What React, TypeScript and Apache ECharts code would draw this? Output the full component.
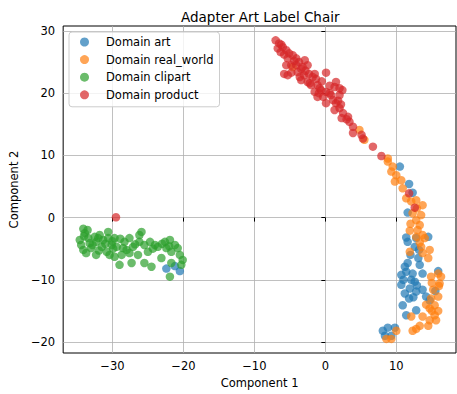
import React, { useEffect, useRef } from "react";
import * as echarts from "echarts";

// t-SNE style 2-D embedding of features, one list of [x, y] per domain
const artPoints: number[][] = [
  [10.5, 8.2], [11.8, 5.4], [12.3, 4.0], [11.6, 0.8], [11.4, -3.2], [12.8, -3.3], [14.5, -3.1],
  [11.6, -3.9], [12.6, -4.7], [13.1, -6.5], [11.6, -7.3], [13.3, -7.6], [11.4, -8.7], [10.7, -9.2],
  [12.3, -9.0], [13.7, -9.0], [15.9, -8.6], [12.1, -10.0], [12.6, -10.3], [10.7, -10.8], [11.9, -11.4],
  [11.2, -12.2], [12.8, -11.9], [13.7, -11.6], [14.2, -12.7], [14.7, -13.3], [10.9, -14.1], [12.8, -14.9],
  [11.4, -15.7], [8.8, -17.7], [9.8, -17.7], [8.4, -19.0], [9.3, -19.0], [8.1, -18.2], [15.5, -11.8],
  [11.0, -10.0], [12.0, -6.0], [12.4, -12.8], [11.8, -13.0], [13.2, -5.2], [11.2, -7.9], [12.9, -10.9],
  [-22.4, -8.2], [-21.2, -7.8], [-20.5, -8.6],
];

const realWorldPoints: number[][] = [
  [-4.6, 24.2], [4.8, 14.1], [5.5, 12.5], [8.8, 9.5], [8.8, 9.0], [9.5, 8.2], [9.3, 7.4], [10.0, 6.8],
  [9.8, 5.8], [10.7, 6.0], [10.9, 4.7], [11.4, 3.1], [12.1, 2.6], [12.8, 2.8], [13.7, 2.0], [12.3, 0.7],
  [13.5, 0.4], [12.8, -0.4], [13.3, -1.2], [11.9, -2.1], [13.0, -2.0], [13.7, -2.8], [12.8, -3.1],
  [14.0, -3.3], [13.5, -4.7], [14.7, -5.2], [11.9, -5.5], [13.7, -5.7], [14.5, -6.5], [14.9, -9.5],
  [16.3, -9.5], [16.1, -10.6], [15.2, -11.6], [15.9, -12.7], [14.9, -13.0], [15.4, -14.1], [14.7, -14.6],
  [12.1, -15.9], [13.7, -15.9], [15.4, -15.7], [14.7, -16.5], [15.6, -16.5], [13.3, -17.4], [12.8, -17.9],
  [12.3, -18.2], [14.5, -17.4], [10.0, -18.2], [8.6, -19.5], [9.3, -19.5], [15.9, -9.0], [15.0, -10.5],
  [14.2, -14.0], [15.0, -15.0], [15.9, -15.0], [12.9, 1.5], [12.0, -1.0], [13.3, -4.0], [16.0, -11.0],
];

const clipartPoints: number[][] = [
  [-34.1, -1.8], [-33.9, -2.5], [-34.6, -3.6], [-34.4, -4.4], [-34.1, -5.2], [-33.4, -3.3], [-33.2, -4.1],
  [-33.0, -4.9], [-32.5, -3.1], [-32.3, -3.9], [-32.3, -6.0], [-31.8, -2.8], [-31.5, -4.7], [-31.3, -3.6],
  [-30.8, -5.5], [-30.6, -2.3], [-30.6, -3.3], [-30.1, -4.4], [-29.7, -3.3], [-29.4, -4.7], [-29.7, -6.3],
  [-29.0, -7.6], [-28.5, -4.9], [-28.3, -3.9], [-28.7, -6.0], [-27.6, -3.3], [-27.6, -5.7], [-27.3, -7.3],
  [-27.1, -4.7], [-26.4, -6.0], [-26.2, -2.8], [-26.2, -3.9], [-25.9, -2.3], [-25.5, -4.4], [-25.5, -7.3],
  [-25.0, -5.5], [-24.5, -7.9], [-24.7, -3.9], [-24.0, -4.4], [-23.6, -4.7], [-23.1, -6.5], [-22.6, -3.9],
  [-22.4, -4.9], [-21.9, -3.6], [-21.7, -5.5], [-21.7, -7.3], [-21.2, -4.4], [-20.8, -4.9], [-20.5, -6.0],
  [-20.1, -6.8], [-20.3, -7.6], [-21.9, -9.5], [-30.4, -6.0], [-33.7, -5.7], [-32.8, -4.4], [-31.0, -4.2],
  [-29.9, -5.0], [-28.0, -5.2], [-26.8, -4.3], [-23.0, -4.2], [-22.0, -4.6], [-33.5, -2.0], [-30.0, -3.8],
  [-31.9, -5.3], [-34.0, -3.0], [-32.0, -3.3], [-28.9, -3.4], [-24.3, -5.0],
];

const productPoints: number[][] = [
  [-7.0, 28.5], [-6.5, 28.0], [-6.0, 27.4], [-6.7, 27.2], [-6.3, 26.6], [-5.5, 26.9], [-5.1, 26.4],
  [-5.3, 25.6], [-4.6, 26.1], [-4.1, 25.6], [-5.5, 24.5], [-4.8, 24.5], [-5.8, 23.1], [-5.3, 22.9],
  [-4.1, 24.5], [-3.7, 25.0], [-3.4, 23.9], [-3.9, 23.4], [-2.5, 24.5], [-3.0, 22.9], [-3.4, 22.1],
  [-2.3, 23.1], [-1.5, 23.1], [-1.3, 22.3], [-2.5, 21.8], [-2.0, 21.3], [-1.1, 21.3], [0.1, 23.3],
  [-0.6, 20.5], [-1.5, 20.2], [0.1, 20.2], [1.5, 21.8], [1.3, 21.0], [2.4, 20.5], [0.8, 19.7], [2.0, 19.7],
  [-1.1, 19.4], [-2.2, 21.6], [-0.8, 20.8], [2.0, 20.8], [-0.3, 19.4], [0.6, 20.0], [1.1, 18.9], [0.1, 18.4],
  [1.5, 18.4], [2.0, 17.6], [2.5, 16.8], [1.3, 17.3], [2.3, 16.0], [3.2, 16.2], [3.4, 15.4], [3.9, 14.6],
  [3.9, 13.6], [5.1, 13.3], [5.3, 12.7], [6.7, 11.4], [7.9, 9.9], [11.8, 3.9], [12.6, 1.6], [-29.5, 0.05],
  [-6.2, 27.8], [-5.8, 26.2], [-4.4, 25.2], [-3.2, 24.2], [-2.8, 23.6], [-1.8, 22.6], [-0.5, 21.9],
  [0.6, 21.2], [1.8, 18.8], [2.2, 18.2], [3.0, 15.8], [-4.8, 23.3], [-3.6, 22.6], [-0.9, 20.0], [-2.9, 25.3],
];

const domainNames = ["Domain art", "Domain real_world", "Domain clipart", "Domain product"];
const domainColors = ["#1f77b4", "#ff7f0e", "#2ca02c", "#d62728"];
const xTicks = [-30, -20, -10, 0, 10];
const yTicks = [-20, -10, 0, 10, 20, 30];

const FONT = "DejaVu Sans";
const FS = 11.5;
const minus = (v: number | string) => String(v).replace("-", "\u2212");

export default function App() {
  const ref = useRef<HTMLDivElement>(null);

  useEffect(() => {
    if (!ref.current) return;
    const chart = echarts.init(ref.current, undefined, { renderer: "svg" });
    const groups = [artPoints, realWorldPoints, clipartPoints, productPoints];

    chart.setOption({
      animation: false,
      textStyle: { fontFamily: FONT },
      title: {
        text: "Adapter Art Label Chair",
        left: 176,
        top: 5,
        textStyle: { fontFamily: FONT, fontSize: 13.5, fontWeight: "normal", color: "#000" },
      },
      legend: {
        orient: "vertical",
        left: 69,
        top: 32,
        padding: [3, 6, 5, 11],
        itemWidth: 9,
        itemHeight: 9,
        itemGap: 3.6,
        icon: "circle",
        backgroundColor: "rgba(255,255,255,0.8)",
        borderColor: "#cccccc",
        borderWidth: 1,
        borderRadius: 3,
        textStyle: {
          fontFamily: FONT,
          fontSize: FS,
          color: "#000",
          lineHeight: 14,
          padding: [0, 0, 0, 12],
        },
        data: domainNames,
      },
      grid: {
        left: 63,
        top: 26,
        right: 1,
        bottom: 41,
        show: true,
        borderColor: "#000",
        borderWidth: 1,
        backgroundColor: "transparent",
      },
      xAxis: {
        type: "value",
        min: -36.94,
        max: 18.41,
        name: "Component 1",
        nameLocation: "middle",
        nameGap: 23,
        nameTextStyle: { fontFamily: FONT, fontSize: FS, color: "#000" },
        axisLine: { show: false },
        axisTick: { show: true, length: 4, lineStyle: { color: "#000" }, customValues: xTicks },
        axisLabel: {
          fontFamily: FONT,
          fontSize: FS,
          color: "#000",
          margin: 7,
          customValues: xTicks,
          formatter: (v: number) => minus(v),
        },
        splitLine: { show: true, lineStyle: { color: "#b0b0b0", width: 0.8 } },
      },
      yAxis: {
        type: "value",
        min: -21.77,
        max: 30.8,
        name: "Component 2",
        nameLocation: "middle",
        nameRotate: 90,
        nameGap: 38,
        nameTextStyle: { fontFamily: FONT, fontSize: FS, color: "#000" },
        axisLine: { show: false },
        axisTick: { show: true, length: 4, lineStyle: { color: "#000" }, customValues: yTicks },
        axisLabel: {
          fontFamily: FONT,
          fontSize: FS,
          color: "#000",
          margin: 8,
          customValues: yTicks,
          formatter: (v: number) => minus(v),
        },
        splitLine: { show: true, lineStyle: { color: "#b0b0b0", width: 0.8 } },
      },
      series: groups.map((pts, i) => ({
        name: domainNames[i],
        type: "scatter",
        symbol: "circle",
        symbolSize: 8.5,
        data: pts,
        itemStyle: { color: domainColors[i], opacity: 0.7 },
        emphasis: { disabled: true },
      })),
    });

    return () => chart.dispose();
  }, []);

  return (
    <div
      ref={ref}
      style={{ position: "fixed", left: 0, top: 0, width: 457, height: 394, background: "#fff" }}
    />
  );
}
